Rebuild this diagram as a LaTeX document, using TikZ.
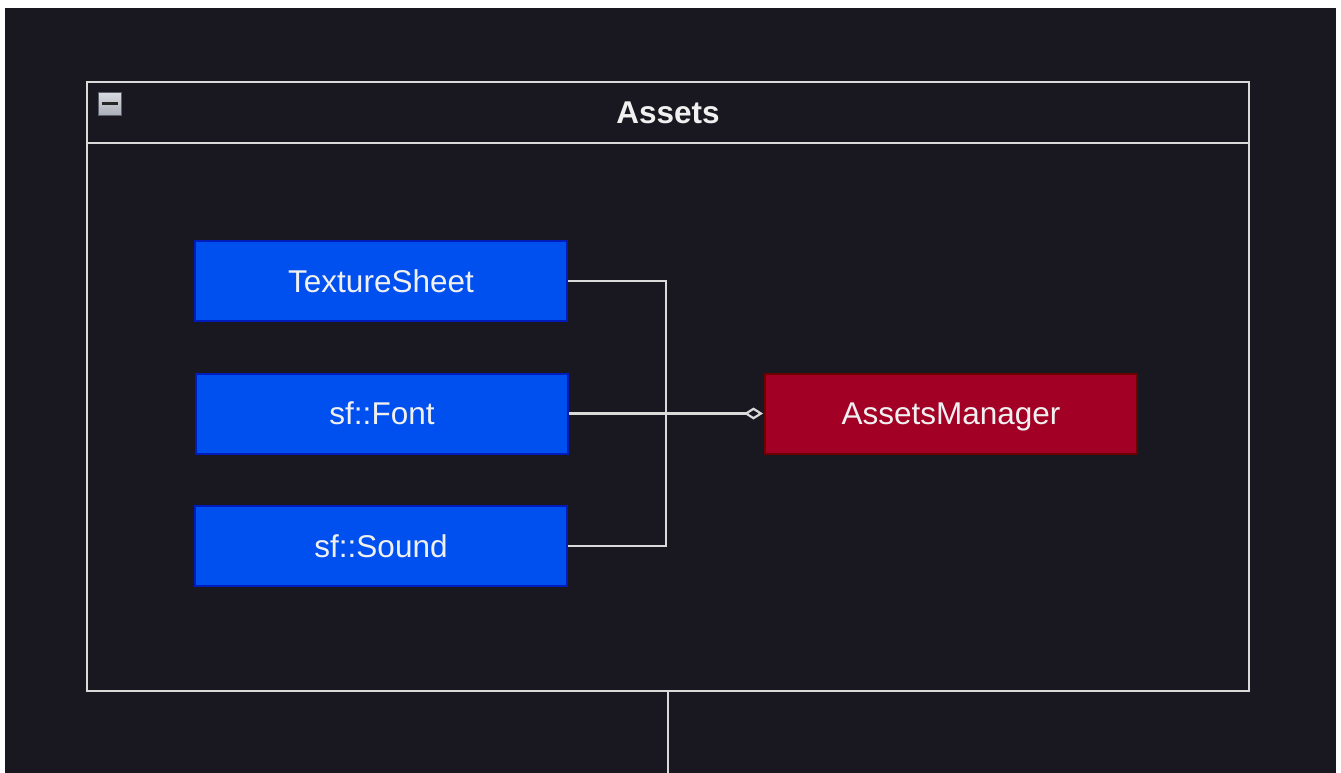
\documentclass[tikz,border=0pt]{standalone}
\usepackage{fontspec}
\setmainfont{Liberation Sans}
\usetikzlibrary{arrows.meta}
\definecolor{bgdark}{HTML}{19171F}
\definecolor{linecol}{HTML}{DADADA}
\definecolor{bluefill}{HTML}{0050EF}
\definecolor{blueline}{HTML}{001DBC}
\definecolor{redfill}{HTML}{A20025}
\definecolor{redline}{HTML}{6F0000}
\definecolor{txt}{HTML}{F0F0F0}
\definecolor{icontop}{HTML}{D8DBE0}
\definecolor{iconbot}{HTML}{A9AEB8}
\definecolor{iconline}{HTML}{5A5F6B}
\tikzset{
  lbl/.style={text=txt, font=\fontsize{31.5}{36}\selectfont, text height=22.6pt, text depth=0pt},
  cls/.style={rectangle, lbl, draw=blueline, fill=bluefill, line width=2pt, minimum width=372pt, minimum height=80pt, inner sep=0pt},
  mgr/.style={cls, draw=redline, fill=redfill},
  wire/.style={draw=linecol, line width=2.2pt},
  framebox/.style={rectangle, draw=linecol, line width=2.2pt, minimum width=1162pt, minimum height=609pt, inner sep=0pt},
}
\begin{document}
\begin{tikzpicture}[x=1pt,y=-1pt]
\useasboundingbox (0,0) rectangle (1341,773);
\fill[white] (0,0) rectangle (1341,773);
\fill[bgdark] (5,8) rectangle (1336,773);
% container
\node[framebox] (frame) at (668,386.5) {};
\draw[wire] (87,143) -- (1249,143);
\node[lbl, font=\fontsize{31.5}{36}\selectfont\bfseries, inner sep=0pt] (title) at (668,112) {Assets};
% collapse icon
\node[rectangle, draw=iconline, line width=1pt, top color=icontop, bottom color=iconbot, minimum width=23pt, minimum height=23pt, inner sep=0pt] (icon) at (110,104) {};
\draw[black!85, line width=3pt] (102,104) -- (118,104);
% classes
\node[cls] (ts) at (381,281) {TextureSheet};
\node[cls] (font) at (382,413.5) {sf::Font};
\node[cls] (snd) at (381,546) {sf::Sound};
\node[mgr] (am) at (951,413.5) {AssetsManager};
% connectors
\coordinate (j) at (666,413.5);
\draw[wire] (ts.east) -| (j);
\draw[wire] (snd.east) -| (j);
\draw[wire, -{Diamond[open, length=19pt, width=12pt, fill=bgdark, line width=2.2pt]}] (font.east) -- ([xshift=-1pt]am.west);
\coordinate (bottom) at (668,773);
\draw[wire] (frame.south) -- (bottom);
\end{tikzpicture}
\end{document}
